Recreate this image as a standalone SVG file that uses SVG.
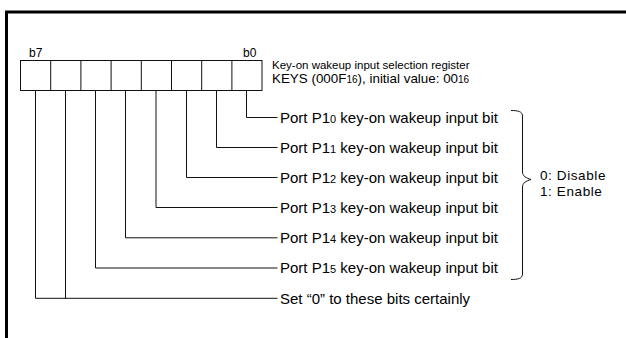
<svg xmlns="http://www.w3.org/2000/svg" width="626" height="338" viewBox="0 0 626 338">
<style>
.t{font-family:"Liberation Sans",Arial,sans-serif;fill:#000}
.lbl{font-size:15px}
.sm{font-size:12px}
.val{font-size:13.5px;letter-spacing:0.6px}
.ln{fill:none;stroke:#111;stroke-width:1}
.sub{font-size:11px}
</style>
<rect x="0" y="0" width="626" height="338" fill="#fff"/>
<rect x="6.5" y="12" width="640" height="340" fill="none" stroke="#000" stroke-width="3"/>
<g id="register">
<rect class="ln" x="20.5" y="60.5" width="241.5" height="30"/>
<path class="ln" d="M50.7 60.5V90.5M80.9 60.5V90.5M111.1 60.5V90.5M141.3 60.5V90.5M171.5 60.5V90.5M201.7 60.5V90.5M231.9 60.5V90.5"/>
<text class="t sm" x="29" y="57">b7</text>
<text class="t sm" x="243" y="57">b0</text>
</g>
<g id="title">
<text class="t" style="font-size:11.5px" x="272" y="68.5">Key-on wakeup input selection register</text>
<text class="t" style="font-size:13.4px" x="272" y="83">KEYS (000F<tspan style="font-size:10px">16</tspan>), initial value: 00<tspan style="font-size:10px">16</tspan></text>
</g>
<g id="connectors">
<path class="ln" d="M246.5 90.5V117.5H277.5"/>
<path class="ln" d="M216.5 90.5V147.5H277.5"/>
<path class="ln" d="M186.5 90.5V177.5H277.5"/>
<path class="ln" d="M156 90.5V207.5H277.5"/>
<path class="ln" d="M125.5 90.5V237.8H277.5"/>
<path class="ln" d="M95.5 90.5V268H277.5"/>
<path class="ln" d="M65.5 90.5V298.3"/>
<path class="ln" d="M35.5 90.5V298.3H277.5"/>
<path class="ln" d="M511 110.5C518 110.5 522.5 111.5 522.5 116V172C522.5 176 526 178 531 179.5C526 181 522.5 183 522.5 187V274C522.5 278.5 518 279.5 511 279.5"/>
</g>
<g id="labels">
<text class="t lbl" x="280" y="122.5">Port P1<tspan class="sub">0</tspan> key-on wakeup input bit</text>
<text class="t lbl" x="280" y="152.5">Port P1<tspan class="sub">1</tspan> key-on wakeup input bit</text>
<text class="t lbl" x="280" y="182.5">Port P1<tspan class="sub">2</tspan> key-on wakeup input bit</text>
<text class="t lbl" x="280" y="212.5">Port P1<tspan class="sub">3</tspan> key-on wakeup input bit</text>
<text class="t lbl" x="280" y="243">Port P1<tspan class="sub">4</tspan> key-on wakeup input bit</text>
<text class="t lbl" x="280" y="273">Port P1<tspan class="sub">5</tspan> key-on wakeup input bit</text>
<text class="t lbl" x="280" y="303.5">Set “0” to these bits certainly</text>
</g>
<g id="values">
<text class="t val" x="540" y="180">0: Disable</text>
<text class="t val" x="540" y="196">1: Enable</text>
</g>
</svg>
